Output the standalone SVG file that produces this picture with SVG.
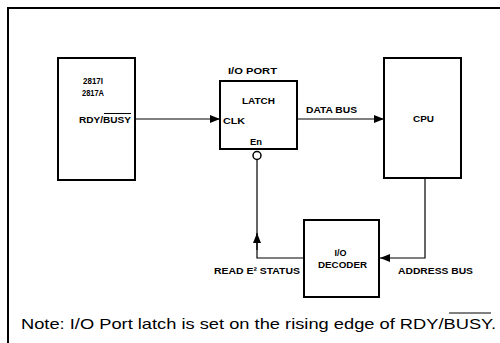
<svg xmlns="http://www.w3.org/2000/svg" width="500" height="343" viewBox="0 0 500 343">
<style>
.box{fill:#fff;stroke:#000;stroke-width:2}
.ln{fill:none;stroke:#000;stroke-width:1.2}
.t{font-family:"Liberation Sans",Arial,sans-serif;font-weight:bold;font-size:9px;fill:#000}
.note{font-family:"Liberation Sans",Arial,sans-serif;font-size:15px;fill:#000}
.ov{stroke:#000;stroke-width:1}
</style>
<defs>
<marker id="ah" viewBox="0 0 10 8" refX="10" refY="4" markerWidth="10" markerHeight="8" markerUnits="userSpaceOnUse" orient="auto">
<path d="M0,0 L10,4 L0,8 Z" fill="#000"/>
</marker>
</defs>
<rect width="500" height="343" fill="#fff"/>
<g id="frame">
<path d="M8,343 L8,8 L500,8" fill="none" stroke="#000" stroke-width="2"/>
</g>
<g id="connectors">
<line class="ln" x1="136" y1="119" x2="220" y2="119" marker-end="url(#ah)"/>
<line class="ln" x1="297" y1="119" x2="384" y2="119" marker-end="url(#ah)"/>
<path class="ln" d="M425,179 L425,258 L380,258" marker-end="url(#ah)"/>
<path class="ln" d="M304,258 L257,258 L257,160"/>
<line class="ln" x1="257" y1="250" x2="257" y2="233" marker-end="url(#ah)"/>
</g>
<g id="eeprom">
<rect class="box" x="58" y="58" width="77" height="122"/>
<text class="t" x="83" y="83.5" textLength="20" lengthAdjust="spacingAndGlyphs" font-size="9.5">2817I</text>
<text class="t" x="82" y="95.5" textLength="22" lengthAdjust="spacingAndGlyphs" font-size="9.5">2817A</text>
<text class="t" x="79" y="122.5" textLength="52" lengthAdjust="spacingAndGlyphs">RDY/BUSY</text>
<line class="ov" x1="104" y1="113.5" x2="131" y2="113.5"/>
</g>
<g id="latch">
<text class="t" x="228" y="74" textLength="49" lengthAdjust="spacingAndGlyphs">I/O PORT</text>
<rect class="box" x="220" y="81" width="77" height="68"/>
<text class="t" x="242" y="103.5" textLength="33" lengthAdjust="spacingAndGlyphs">LATCH</text>
<text class="t" x="223" y="124" textLength="22" lengthAdjust="spacingAndGlyphs">CLK</text>
<text class="t" x="250" y="145" textLength="12" lengthAdjust="spacingAndGlyphs">En</text>
<circle cx="257" cy="155.5" r="4" fill="#fff" stroke="#000" stroke-width="1.5"/>
</g>
<g id="cpu">
<rect class="box" x="384" y="58" width="77" height="120"/>
<text class="t" x="413" y="122" textLength="21" lengthAdjust="spacingAndGlyphs">CPU</text>
</g>
<g id="decoder">
<rect class="box" x="304" y="220" width="75" height="77"/>
<text class="t" x="340.5" y="255.5" text-anchor="middle">I/O</text>
<text class="t" x="318" y="267.5" textLength="49" lengthAdjust="spacingAndGlyphs">DECODER</text>
</g>
<g id="labels">
<text class="t" x="306" y="113" textLength="51" lengthAdjust="spacingAndGlyphs">DATA BUS</text>
<text class="t" x="398" y="273.5" textLength="75" lengthAdjust="spacingAndGlyphs">ADDRESS BUS</text>
<text class="t" x="214" y="273.5" textLength="86" lengthAdjust="spacingAndGlyphs">READ E² STATUS</text>
</g>
<g id="note">
<text class="note" x="21" y="328.5" textLength="475" lengthAdjust="spacingAndGlyphs">Note: I/O Port latch is set on the rising edge of RDY/BUSY.</text>
<line class="ov" x1="449" y1="313" x2="491" y2="313" stroke-width="1.3"/>
</g>
</svg>
